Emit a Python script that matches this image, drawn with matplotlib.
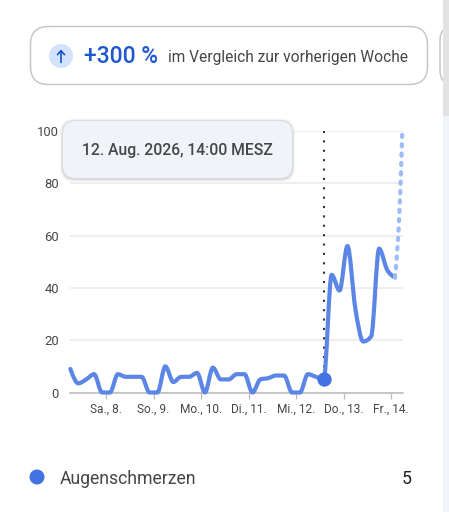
import numpy as np
import matplotlib
matplotlib.use("Agg")
import matplotlib.pyplot as plt
from matplotlib.patches import Circle, FancyBboxPatch, PathPatch, Rectangle
from matplotlib.path import Path

plt.rcParams['font.family'] = ['Roboto', 'DejaVu Sans']

# hours since 7 Aug 00:00, one reading every 4 hours
hours = [6, 10, 14, 18, 22, 26, 30, 34, 38, 42, 46, 50, 54, 58, 62, 66, 70, 74, 78, 82, 86,
         90, 94, 98, 102, 106, 110, 114, 118, 122, 126, 130, 134, 138, 142, 146, 150, 154,
         158, 162, 166, 170]
values = [9, 3.5, 5, 7, 0, 0, 7, 6, 6, 6, 0, 0, 10, 4, 6, 6, 7.5, 0, 9.5, 5, 5,
          7, 7, 0, 5, 5.5, 6.5, 6.5, 0, 0, 7, 6, 5, 45, 39, 56, 32, 19.5,
          21.5, 55, 47, 44]
# last, unfinished stretch
partial_hours = [170, 171.4, 172.6, 173.7]
partial_values = [44, 57, 75, 100]
hover_hour = 134
hover_value = 5

tick_hours = [24, 48, 72, 96, 120, 144, 168]
tick_labels = ['Sa., 8.', 'So., 9.', 'Mo., 10.', 'Di., 11.', 'Mi., 12.', 'Do., 13.', 'Fr., 14.']
y_ticks = [0, 20, 40, 60, 80, 100]

W, H = 449, 512
BLUE = '#5b86e6'
DARK = '#444746'


def monotone_path(xs, ys):
    # monotone cubic through the readings, same look as the curved line in the chart
    xs = np.array(xs, float)
    ys = np.array(ys, float)
    h = np.diff(xs)
    s = np.diff(ys) / h
    m = np.zeros(len(xs))
    for i in range(1, len(xs) - 1):
        if s[i - 1] * s[i] > 0:
            p = (s[i - 1] * h[i] + s[i] * h[i - 1]) / (h[i - 1] + h[i])
            m[i] = np.sign(s[i]) * min(abs(s[i - 1]), abs(s[i]), abs(p) / 2) * 2
    m[0] = (3 * s[0] - m[1]) / 2
    m[-1] = (3 * s[-1] - m[-2]) / 2
    verts = [(xs[0], ys[0])]
    codes = [Path.MOVETO]
    for i in range(len(h)):
        verts += [(xs[i] + h[i] / 3, ys[i] + m[i] * h[i] / 3),
                  (xs[i + 1] - h[i] / 3, ys[i + 1] - m[i + 1] * h[i] / 3),
                  (xs[i + 1], ys[i + 1])]
        codes += [Path.CURVE4] * 3
    return Path(verts, codes)


fig = plt.figure(figsize=(W / 100, H / 100), dpi=100)

# page layer in pixel coordinates
bg = fig.add_axes([0, 0, 1, 1])
bg.set_xlim(0, W)
bg.set_ylim(H, 0)
bg.axis('off')

bg.add_patch(FancyBboxPatch((30.5, 26.5), 397, 58, boxstyle='round,pad=0,rounding_size=18',
                            fc='white', ec='#c6c7c7', lw=1.1))
bg.add_patch(FancyBboxPatch((440, 26.5), 20, 58, boxstyle='round,pad=0,rounding_size=14',
                            fc='white', ec='#c6c7c7', lw=1.1))
# scrollbar at the right edge
bg.add_patch(Rectangle((443, 0), 6, H, fc='#f0f3f9', ec='none'))
bg.add_patch(Rectangle((443, 0), 6, 116, fc='#e3e3e3', ec='none'))

bg.add_patch(Circle((61, 56), 12, fc='#d3e3fd', ec='none'))
bg.annotate('', xy=(61, 49.5), xytext=(61, 62.5),
            arrowprops=dict(arrowstyle='->,head_width=0.25,head_length=0.28', color='#1b52c4', lw=1.2,
                            shrinkA=0, shrinkB=0))
bg.text(84, 56.5, '+300 %', fontsize=16.4, fontweight='medium', color='#1f57d1', va='center', ha='left')
bg.text(168.5, 57.5, 'im Vergleich zur vorherigen Woche', fontsize=11.2, color=DARK, va='center', ha='left')

bg.add_patch(Circle((37, 477), 7.5, fc='#4372e2', ec='none'))
bg.text(60, 478.5, 'Augenschmerzen', fontsize=12.7, color=DARK, va='center', ha='left')
bg.text(412, 478.5, '5', fontsize=12.7, color='#1f1f1f', va='center', ha='right')

# chart, axes placed so 0..100 and the hour scale land on the same pixels
left, right, top, bottom = 70, 403, 131, 392.5
ax = fig.add_axes([left / W, 1 - bottom / H, (right - left) / W, (bottom - top) / H])
ax.patch.set_alpha(0)
px_per_hour = 47.5 / 24
ax.set_xlim(24 - (106 - left) / px_per_hour, 24 + (right - 106) / px_per_hour)
ax.set_ylim(0, 100)

for s in ['top', 'right', 'left']:
    ax.spines[s].set_visible(False)
ax.spines['bottom'].set_color('#b9b9b9')
ax.spines['bottom'].set_linewidth(1.1)

ax.set_yticks(y_ticks)
ax.set_xticks(tick_hours)
ax.set_xticklabels(tick_labels)
ax.tick_params(axis='y', length=0, pad=8, labelsize=9.4, labelcolor=DARK)
ax.tick_params(axis='x', length=4, width=0.9, color='#b9b9b9', pad=3.5, labelsize=8.6, labelcolor=DARK)
ax.grid(axis='y', color='#e9e9e9', lw=1.1)
ax.set_axisbelow(True)

# drawn downwards so the dots start at the top of the plot
ax.plot([hover_hour, hover_hour], [100, 0], color='#333333', lw=1.5, ls=(0, (1, 3.5)), zorder=2)

ax.add_patch(PathPatch(monotone_path(hours, values), fc='none', ec=BLUE, lw=3,
                       capstyle='round', joinstyle='round', clip_on=False, zorder=3))
ax.add_patch(PathPatch(monotone_path(partial_hours, partial_values), fc='none', ec='#9dbcf8', lw=3,
                       ls=(0, (0.55, 1.7)), capstyle='round', clip_on=False, zorder=3))
ax.plot([hover_hour], [hover_value], 'o', ms=10.3, color='#4272e3', mec='none', clip_on=False, zorder=4)

# tooltip on top of the chart, soft shadow first
top_layer = fig.add_axes([0, 0, 1, 1])
top_layer.set_xlim(0, W)
top_layer.set_ylim(H, 0)
top_layer.axis('off')
for grow, alpha in [(2.5, 0.12), (1.5, 0.2), (0.7, 0.3)]:
    top_layer.add_patch(FancyBboxPatch((62.5 - grow, 120.5 - grow + 0.8), 230 + 2 * grow, 58 + 2 * grow,
                                       boxstyle='round,pad=0,rounding_size=14',
                                       fc='#b5b5b5', ec='none', alpha=alpha))
top_layer.add_patch(FancyBboxPatch((62.5, 120.5), 230, 58, boxstyle='round,pad=0,rounding_size=13',
                                   fc='#f0f4f9', ec='#dcdcdf', lw=0.8))
top_layer.text(177.5, 150.5, '12. Aug. 2026, 14:00 MESZ', fontsize=11.3, fontweight='medium', color=DARK,
               va='center', ha='center')

fig.savefig('out.png', dpi=100)
